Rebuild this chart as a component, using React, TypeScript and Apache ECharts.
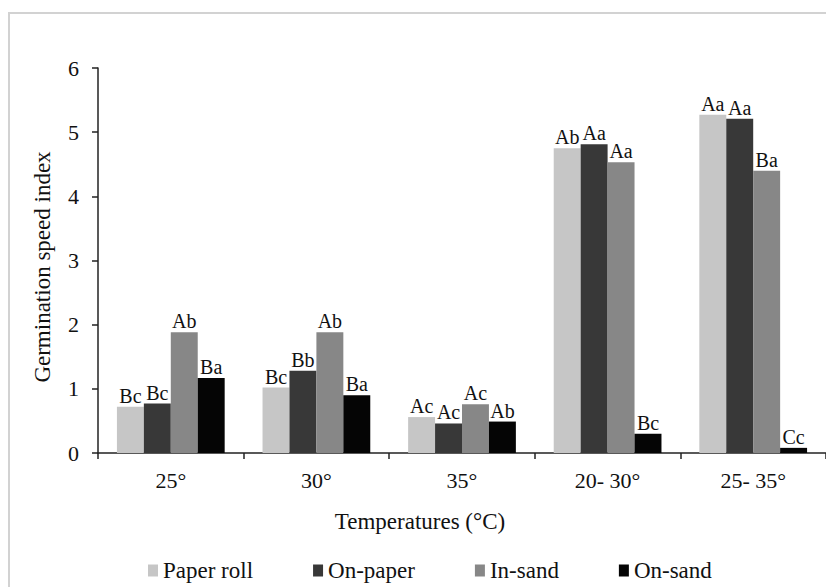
import React, { useEffect, useRef } from "react";
import * as echarts from "echarts";

const categories = ["25°", "30°", "35°", "20- 30°", "25- 35°"];
const seriesNames = ["Paper roll", "On-paper", "In-sand", "On-sand"];
const paperRoll = [0.72, 1.02, 0.56, 4.75, 5.27];
const onPaper = [0.77, 1.28, 0.46, 4.81, 5.21];
const inSand = [1.88, 1.88, 0.76, 4.53, 4.40];
const onSand = [1.17, 0.90, 0.49, 0.30, 0.08];
const paperRollLabels = ["Bc", "Bc", "Ac", "Ab", "Aa"];
const onPaperLabels = ["Bc", "Bb", "Ac", "Aa", "Aa"];
const inSandLabels = ["Ab", "Ab", "Ac", "Aa", "Ba"];
const onSandLabels = ["Ba", "Ba", "Ab", "Bc", "Cc"];
const yTicks = [0, 1, 2, 3, 4, 5, 6];
const colors = ["#c6c6c6", "#383838", "#878787", "#050505"];

const FONT = "Liberation Serif";

export default function App() {
  const ref = useRef<HTMLDivElement>(null);
  useEffect(() => {
    if (!ref.current) return;
    const chart = echarts.init(ref.current, undefined, { renderer: "svg" });
    const values = [paperRoll, onPaper, inSand, onSand];
    const labels = [paperRollLabels, onPaperLabels, inSandLabels, onSandLabels];
    chart.setOption({
      animation: false,
      backgroundColor: "#ffffff",
      textStyle: { fontFamily: FONT },
      grid: {
        left: 98,
        right: 0,
        top: 68,
        bottom: 134,
        containLabel: false,
        outerBoundsMode: "none",
      },
      legend: {
        left: 148,
        top: 559,
        padding: 0,
        itemWidth: 10,
        itemHeight: 12,
        itemGap: 60,
        icon: "rect",
        textStyle: { fontFamily: FONT, fontSize: 23, color: "#111" },
        data: seriesNames,
      },
      xAxis: {
        type: "category",
        data: categories,
        axisLine: { lineStyle: { color: "#222", width: 1.5 } },
        axisTick: { show: true, length: 6, lineStyle: { color: "#222", width: 1.5 } },
        axisLabel: { fontFamily: FONT, fontSize: 22, color: "#111", margin: 16 },
      },
      yAxis: {
        type: "value",
        min: yTicks[0],
        max: yTicks[yTicks.length - 1],
        interval: 1,
        splitLine: { show: false },
        axisLine: { show: true, lineStyle: { color: "#222", width: 1.5 } },
        axisTick: { show: true, length: 6, lineStyle: { color: "#222", width: 1.5 } },
        axisLabel: { fontFamily: FONT, fontSize: 22, color: "#111", margin: 19 },
      },
      graphic: [
        {
          type: "rect",
          shape: { x: 9, y: 13, width: 840, height: 620 },
          style: { fill: "none", stroke: "#d2d2d2", lineWidth: 2 },
          silent: true,
        },
        {
          type: "text",
          x: 42,
          y: 267,
          rotation: Math.PI / 2,
          style: {
            text: "Germination speed index",
            fontFamily: FONT,
            fontSize: 23,
            fill: "#111",
            align: "center",
            verticalAlign: "middle",
          },
        },
        {
          type: "text",
          x: 420,
          y: 521,
          style: {
            text: "Temperatures (°C)",
            fontFamily: FONT,
            fontSize: 23,
            fill: "#111",
            align: "center",
            verticalAlign: "middle",
          },
        },
      ],
      series: seriesNames.map((name, i) => ({
        name,
        type: "bar",
        data: values[i],
        barGap: "0%",
        barCategoryGap: "26%",
        itemStyle: { color: colors[i] },
        label: {
          show: true,
          position: "top",
          distance: 1,
          fontFamily: FONT,
          fontSize: 20,
          color: "#111",
          formatter: (p: any) => labels[i][p.dataIndex],
        },
      })),
    });
    return () => chart.dispose();
  }, []);
  return (
    <div
      ref={ref}
      style={{ position: "fixed", left: 0, top: 0, width: 826, height: 587 }}
    />
  );
}
